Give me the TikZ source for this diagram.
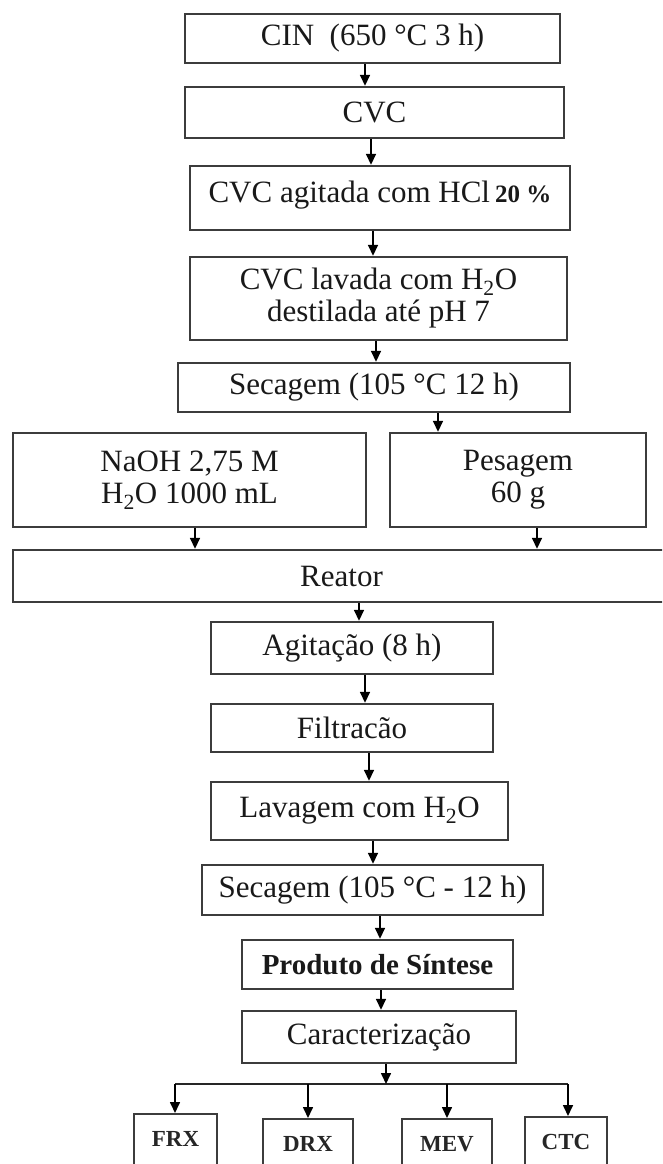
\documentclass[tikz,border=0pt]{standalone}
\usepackage{fontspec}
\setmainfont{Liberation Serif}
\usetikzlibrary{arrows.meta}
\definecolor{boxgray}{HTML}{3C3C3C}
\begin{document}
\begin{tikzpicture}[x=1pt,y=-1pt,
  box/.style={draw=boxgray, line width=2.4pt, fill=white, inner sep=0pt, align=center,
    font=\fontsize{31}{32}\selectfont, text=black!90},
  smallbox/.style={draw=boxgray, line width=2.4pt, fill=white, inner sep=0pt, align=center,
    anchor=north, text height=32pt, text depth=60pt,
    font=\fontsize{23}{25}\selectfont\bfseries, text=black!85},
  arr/.style={draw=black, line width=1.6pt, -{Triangle[width=10pt,length=11pt]}},
  branch/.style={draw=black!85, line width=2pt}
]
\clip (0,0) rectangle (662,1164);
\fill[white] (0,0) rectangle (662,1164);

% main column
\node[box, minimum width=375pt, minimum height=49pt] (cin) at (372.5,38.5) {CIN~ (650 °C 3 h)};
\node[box, minimum width=379pt, minimum height=51pt] (cvc) at (374.5,112.5) {CVC};
\node[box, minimum width=380pt, minimum height=64pt] (agit) at (380,198)
  {\raisebox{-4pt}[0pt][0pt]{CVC agitada com HCl\,{\fontsize{25}{26}\selectfont\bfseries 20 \%}}};
\node[box, minimum width=377pt, minimum height=83pt] (lav) at (378.5,298.5)
  {CVC lavada com H\textsubscript{2}O\\destilada até pH 7};
\node[box, minimum width=392pt, minimum height=49pt] (sec1) at (374,387.5) {Secagem (105 °C 12 h)};
\node[box, minimum width=353pt, minimum height=94pt] (naoh) at (189.5,480)
  {NaOH 2,75 M\\H\textsubscript{2}O 1000 mL};
\node[box, minimum width=256pt, minimum height=94pt] (pes) at (518,480) {Pesagem\\60 g};
\node[box, minimum width=657pt, minimum height=52pt] (reat) at (341.5,576) {Reator};
\node[box, minimum width=282pt, minimum height=52pt] (agt) at (352,648) {Agitação (8 h)};
\node[box, minimum width=282pt, minimum height=48pt] (fil) at (352,728) {Filtracão};
\node[box, minimum width=297pt, minimum height=58pt] (lavg) at (359.5,811) {Lavagem com H\textsubscript{2}O};
\node[box, minimum width=341pt, minimum height=50pt] (sec2) at (372.5,890) {Secagem (105 °C - 12 h)};
\node[box, minimum width=271pt, minimum height=49pt, font=\fontsize{29}{30}\selectfont\bfseries]
  (prod) at (377.5,964.5) {Produto de Síntese};
\node[box, minimum width=274pt, minimum height=52pt] (car) at (379,1037) {Caracterização};

% bottom row
\node[smallbox, minimum width=83pt] (frx) at (175.5,1113) {FRX};
\node[smallbox, minimum width=90pt] (drx) at (308,1118) {DRX};
\node[smallbox, minimum width=90pt] (mev) at (447,1118) {MEV};
\node[smallbox, minimum width=82pt] (ctc) at (566,1116) {CTC};

% connectors
\draw[arr] ([xshift=-7.5pt]cin.south) -- ([xshift=-9.5pt]cvc.north);
\draw[arr] ([xshift=-3.5pt]cvc.south) -- ([xshift=-9pt]agit.north);
\draw[arr] ([xshift=-7pt]agit.south) -- ([xshift=-5.5pt]lav.north);
\draw[arr] ([xshift=-2.5pt]lav.south) -- ([xshift=2pt]sec1.north);
\draw[arr] ([xshift=64pt]sec1.south) -- ([xshift=-80pt]pes.north);
\draw[arr] ([xshift=5.5pt]naoh.south) -- ([xshift=-146.5pt]reat.north);
\draw[arr] ([xshift=19pt]pes.south) -- ([xshift=195.5pt]reat.north);
\draw[arr] ([xshift=17.5pt]reat.south) -- ([xshift=7pt]agt.north);
\draw[arr] ([xshift=13pt]agt.south) -- ([xshift=13pt]fil.north);
\draw[arr] ([xshift=17pt]fil.south) -- ([xshift=9.5pt]lavg.north);
\draw[arr] ([xshift=13.5pt]lavg.south) -- ([xshift=0.5pt]sec2.north);
\draw[arr] ([xshift=7.5pt]sec2.south) -- ([xshift=2.5pt]prod.north);
\draw[arr] ([xshift=3.5pt]prod.south) -- ([xshift=2pt]car.north);

\coordinate (bl) at (175,1084);
\coordinate (bm) at (386,1084);
\coordinate (br) at (568,1084);
\draw[branch] (bl) -- (br);
\draw[arr] ([xshift=7pt]car.south) -- (bm);
\draw[arr] (bl) -- (bl |- frx.north);
\draw[arr] (drx.north |- bl) -- (drx.north);
\draw[arr] (mev.north |- bl) -- (mev.north);
\draw[arr] (br) -- (br |- ctc.north);
\end{tikzpicture}
\end{document}
